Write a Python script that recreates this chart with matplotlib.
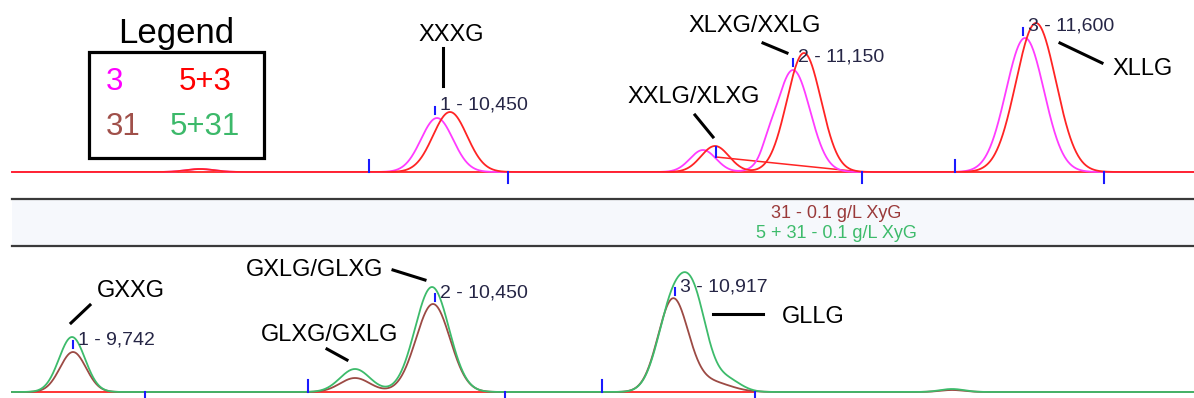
import numpy as np
import matplotlib
matplotlib.use("Agg")
import matplotlib.pyplot as plt
from matplotlib.patches import Rectangle
from matplotlib.lines import Line2D

W, H = 1194, 398

# ---------------- data ----------------
t_min, t_max = 0.12, 11.94          # retention time window (min)

# Top panel: sample "3" (magenta) and "5+3" (red): peak centre, height, sigma
s3_center = [2.00, 4.37, 7.03, 7.68, 7.93, 10.25]
s3_height = [3, 54, 22, 8, 102, 134]
s3_sigma = [0.14, 0.16, 0.13, 0.06, 0.17, 0.19]

s53_center = [2.00, 4.50, 7.15, 8.04, 10.36]
s53_height = [3, 60, 26, 119, 149]
s53_sigma = [0.14, 0.17, 0.14, 0.17, 0.20]

# Bottom panel: sample "31" (brown) and "5+31" (green)
s31_center = [0.73, 3.55, 4.33, 6.73, 7.10, 9.52]
s31_height = [40, 14, 88, 92, 10, 2]
s31_sigma = [0.13, 0.15, 0.17, 0.15, 0.20, 0.12]

s531_center = [0.72, 3.55, 4.32, 6.73, 6.95, 7.26, 9.52]
s531_height = [55, 23, 105, 88, 75, 13, 3]
s531_sigma = [0.13, 0.15, 0.17, 0.15, 0.13, 0.14, 0.12]

# integration events
top_apex_t = [4.35, 7.93, 10.23]
top_peak_labels = ["1 - 10,450", "2 - 11,150", "3 - 11,600"]
top_start_t = [3.69, 9.55]
top_end_t = [5.08, 8.62, 11.04]
top_skim_t = [7.16, 8.62]
top_skim_s = [15, 0]

bot_apex_t = [0.73, 4.35, 6.75]
bot_peak_labels = ["1 - 9,742", "2 - 10,450", "3 - 10,917"]
bot_start_t = [3.08, 6.02]
bot_end_t = [1.45, 5.05, 7.55]
bot_baseline_end = 7.55

top_names = ["XXXG", "XXLG/XLXG", "XLXG/XXLG", "XLLG"]
bot_names = ["GXXG", "GLXG/GXLG", "GXLG/GLXG", "GLLG"]
legend_labels = ["3", "5+3", "31", "5+31"]
band_titles = ["31 - 0.1 g/L XyG", "5 + 31 - 0.1 g/L XyG"]

# ---------------- styling ----------------
C_MAG, C_RED, C_BRN, C_GRN = "#ff3cff", "#ff2424", "#9c4a44", "#3dbb6b"
C_BLUE = "#1a1aff"
LBL = "#262646"
SANS = ["Liberation Sans", "DejaVu Sans"]


def trace(t, centers, heights, sigmas):
    y = np.zeros_like(t)
    for c, h, s in zip(centers, heights, sigmas):
        y += h * np.exp(-0.5 * ((t - c) / s) ** 2)
    return y


t = np.linspace(t_min, t_max, 3000)
y3 = trace(t, s3_center, s3_height, s3_sigma)
y53 = trace(t, s53_center, s53_height, s53_sigma)
y31 = trace(t, s31_center, s31_height, s31_sigma)
y531 = trace(t, s531_center, s531_height, s531_sigma)

fig = plt.figure(figsize=(W / 100, H / 100), dpi=100)
fig.patch.set_facecolor("white")


def fx(x):
    return x / W


def fy(y):
    return 1 - y / H


# ---- top panel ----
ax_t = fig.add_axes([0, fy(199), 1, 199 / H])
ax_t.set_xlim(0, t_max)
ax_t.set_ylim(-27, 172)
ax_t.axis("off")
ax_t.plot([t_min, t_max], [0, 0], color=C_RED, lw=1.3, zorder=1)
ax_t.plot(top_skim_t, top_skim_s, color=C_RED, lw=1.1, zorder=1)
ax_t.plot(t, y3, color=C_MAG, lw=1.3, zorder=2)
ax_t.plot(t, y53, color=C_RED, lw=1.3, zorder=3)
for ta, lab in zip(top_apex_t, top_peak_labels):
    ya = trace(np.array([ta]), s3_center, s3_height, s3_sigma)[0]
    ax_t.plot([ta, ta], [ya + 4, ya + 11], color=C_BLUE, lw=1.5, zorder=4)
    ax_t.text(ta + 0.045, ya + 13, lab, fontsize=14, family=SANS,
              color=LBL, ha="left", va="center", zorder=5)
for ts in top_start_t:
    ax_t.plot([ts, ts], [0, 12], color=C_BLUE, lw=1.5, zorder=4)
for te in top_end_t:
    ax_t.plot([te, te], [0, -11], color=C_BLUE, lw=1.5, zorder=4)
ax_t.plot([top_skim_t[0]] * 2, [top_skim_s[0], top_skim_s[0] + 10],
          color=C_BLUE, lw=1.5, zorder=4)

# ---- band ----
ax_b = fig.add_axes([fx(12), fy(246), 1 - fx(12), 47 / H])
ax_b.set_facecolor("#f6f8fc")
ax_b.set_xticks([])
ax_b.set_yticks([])
for side in ["left", "right"]:
    ax_b.spines[side].set_visible(False)
for side in ["top", "bottom"]:
    ax_b.spines[side].set_color("#3a3a3a")
    ax_b.spines[side].set_linewidth(1.6)
fig.text(fx(836), fy(213), band_titles[0], color="#9a3a3a", fontsize=13,
         family=SANS, ha="center", va="center")
fig.text(fx(836), fy(234), band_titles[1], color=C_GRN, fontsize=13,
         family=SANS, ha="center", va="center")

# ---- bottom panel ----
ax_l = fig.add_axes([0, 0, 1, 152 / H])
ax_l.set_xlim(0, t_max)
ax_l.set_ylim(-6, 146)
ax_l.axis("off")
ax_l.plot([t_min, bot_baseline_end], [0, 0], color=C_RED, lw=1.3, zorder=1)
ax_l.plot(t, y31, color=C_BRN, lw=1.3, zorder=2)
ax_l.plot(t, y531, color=C_GRN, lw=1.3, zorder=3)
for ta, lab in zip(bot_apex_t, bot_peak_labels):
    ya = trace(np.array([ta]), s31_center, s31_height, s31_sigma)[0]
    ax_l.plot([ta, ta], [ya + 4, ya + 11], color=C_BLUE, lw=1.5, zorder=4)
    ax_l.text(ta + 0.045, ya + 12, lab, fontsize=14, family=SANS,
              color=LBL, ha="left", va="center", zorder=5)
for ts in bot_start_t:
    ax_l.plot([ts, ts], [0, 12], color=C_BLUE, lw=1.5, zorder=4)
for te in bot_end_t:
    ax_l.plot([te, te], [0, -7], color=C_BLUE, lw=1.5, zorder=4)

# ---- compound names with leader lines (figure pixel positions) ----
NAME_FS = 17


def name(x, y, s, ha="center"):
    fig.text(fx(x), fy(y), s, fontsize=NAME_FS, family=SANS, color="black",
             ha=ha, va="center")


def leader(x1, y1, x2, y2):
    fig.add_artist(Line2D([fx(x1), fx(x2)], [fy(y1), fy(y2)],
                          transform=fig.transFigure, color="black", lw=2.2))


name(451, 35, top_names[0])
leader(443, 48, 443, 86)
name(694, 97, top_names[1])
leader(695, 115, 713, 137)
name(755, 26, top_names[2])
leader(763, 43, 787, 53)
name(1143, 69, top_names[3])
leader(1060, 43, 1102, 63)

name(131, 291, bot_names[0])
leader(71, 323, 90, 305)
name(330, 335, bot_names[1])
leader(327, 349, 347, 360)
name(315, 270, bot_names[2])
leader(393, 270, 425, 280)
name(813, 317, bot_names[3])
leader(713, 314, 763, 314)

# ---- hand-drawn legend ----
fig.text(fx(176), fy(33), "Legend", fontsize=25, family=SANS, color="black",
         ha="center", va="center")
fig.add_artist(Rectangle((fx(89), fy(158)), fx(264) - fx(89), fy(52) - fy(158),
                         transform=fig.transFigure, fill=False,
                         edgecolor="black", lw=2.3))
leg_colors = ["#ff00ff", "#ff0000", "#a0504a", "#3cb96a"]
leg_pos = [(106, 82, "left"), (205, 82, "center"),
           (106, 127, "left"), (205, 127, "center")]
for lab, col, (x, y, ha) in zip(legend_labels, leg_colors, leg_pos):
    fig.text(fx(x), fy(y), lab, fontsize=22.5, family=SANS, color=col,
             ha=ha, va="center")

fig.savefig("out.png", dpi=100, facecolor="white")
